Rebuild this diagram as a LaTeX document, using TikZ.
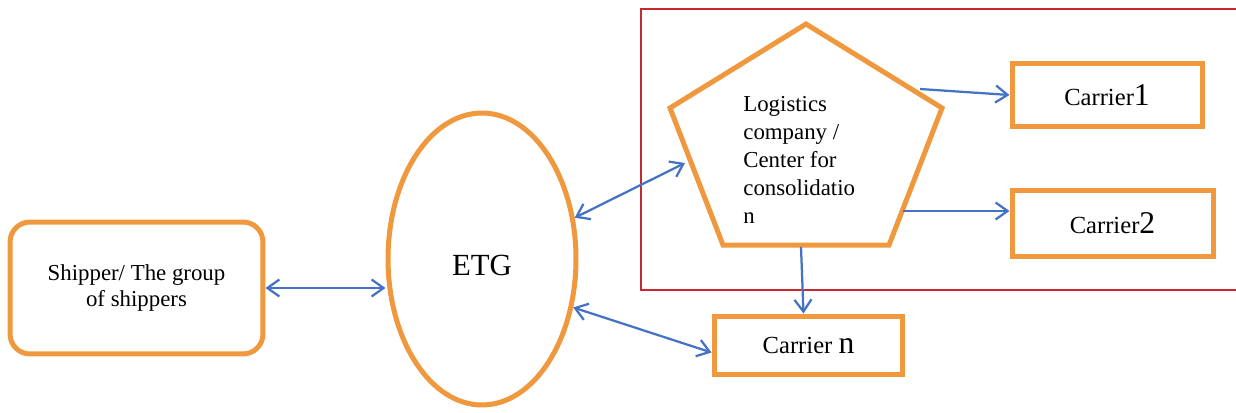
\documentclass[tikz,border=0pt]{standalone}
\usepackage{fontspec}
\setmainfont{Liberation Serif}
\usetikzlibrary{shapes.geometric,arrows.meta,calc}
\definecolor{orng}{HTML}{F0983E}
\definecolor{blu}{HTML}{4472C4}
\definecolor{redf}{HTML}{C62A30}
\begin{document}
\begin{tikzpicture}[x=0.02cm,y=-0.02cm,
  obox/.style={draw=orng,line width=0.1cm,fill=white,inner sep=0pt},
  conn/.style={draw=blu,line width=0.045cm,-{Straight Barb[length=0.24cm,width=0.34cm]}},
  dconn/.style={draw=blu,line width=0.045cm,{Straight Barb[length=0.24cm,width=0.34cm]}-{Straight Barb[length=0.24cm,width=0.34cm]}},
  cfont/.style={font=\fontsize{14}{16}\selectfont}]
\useasboundingbox (0,0) rectangle (1236,412);
% red frame
\draw[redf,line width=0.04cm] (1236,9) -- (641,9) -- (641,290) -- (1236,290);
% nodes
\node[obox, rounded corners=0.4cm, minimum width=5.06cm, minimum height=2.64cm,
      align=center, font=\fontsize{13}{15}\selectfont] (ship) at (136.5,288)
      {Shipper/ The group\\of shippers};
\node[obox, ellipse, minimum width=3.76cm, minimum height=5.84cm,
      font=\fontsize{17.5}{20}\selectfont] (etg) at (482,259) {};
\node[font=\fontsize{17.5}{20}\selectfont, inner sep=0pt] (etgt) at (482,265) {ETG};
\draw[orng, line width=0.1cm, line join=miter]
  (806,24) coordinate (ptop) -- (942,108) coordinate (pur) -- (889,245) coordinate (pbr)
  -- (723,245) coordinate (pbl) -- (670,108) coordinate (pul) -- cycle;
\node[anchor=north west, align=left, inner sep=0pt, font=\fontsize{13}{15.9}\selectfont]
  (logi) at (743,96) {Logistics\\company /\\Center for\\consolidatio\\n};
\node[obox, cfont, minimum width=3.8cm, minimum height=1.28cm] (c1) at (1107,95)
  {Carrier\fontsize{18}{20}\selectfont 1};
\node[obox, cfont, minimum width=4.02cm, minimum height=1.34cm] (c2) at (1112.5,223.5)
  {Carrier\fontsize{18}{20}\selectfont 2};
\node[obox, cfont, minimum width=3.78cm, minimum height=1.18cm] (cn) at (808.5,345.5)
  {Carrier \fontsize{18}{20}\selectfont n};
% connector end points on the pentagon
\coordinate (pE1) at (920,89);
\coordinate (pE2) at (903,211);
\coordinate (pS) at (801,247);
\coordinate (pW) at (685,163);
% connectors
\draw[dconn] (ship.east) -- (ship.east -| etg.west);
\draw[dconn] (etg.24) -- (pW);
\draw[dconn] (etg.-28) -- ($(cn.west)+(0,7)$);
\draw[conn] (pE1) -- (c1.west);
\draw[conn] (pE2) -- (pE2 -| c2.west);
\draw[conn] (pS) -- ($(cn.north)+(-5,0)$);
\end{tikzpicture}
\end{document}
